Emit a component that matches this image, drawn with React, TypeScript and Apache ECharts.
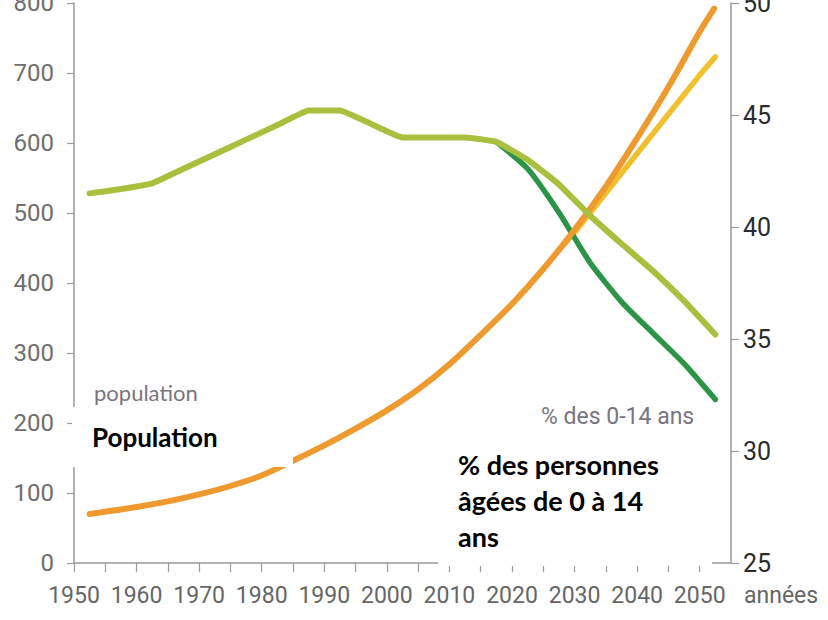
import React, { useEffect, useRef } from "react";
import * as echarts from "echarts";

// Population (millions), left axis
const popYears = [1952.5, 1960, 1965, 1970, 1975, 1980, 1985, 1990, 1995, 2000, 2005, 2010, 2015, 2020, 2025, 2030, 2035, 2040, 2045, 2050, 2052.3];
const popValues = [70, 80, 88, 98, 110, 125, 146, 168, 192, 218, 248, 284, 326, 370, 420, 476, 538, 607, 680, 759, 792];
// Low population projection
const popLowYears = [2027.5, 2030, 2040, 2050, 2052.5];
const popLowValues = [447, 472, 585, 697, 723];
// % of 0-14 year olds, right axis
const youngYears = [1952.5, 1957.5, 1962.5, 1967.5, 1972.5, 1977.5, 1982.5, 1987.5, 1992.5, 1997.5, 2002.5, 2007.5, 2012.5, 2017.5, 2022.5, 2027.5, 2032.5, 2037.5, 2042.5, 2047.5, 2052.5];
const youngValues = [41.5, 41.7, 41.95, 42.6, 43.25, 43.9, 44.55, 45.2, 45.2, 44.6, 44.0, 44.0, 44.0, 43.8, 43.0, 41.9, 40.5, 39.25, 38.05, 36.7, 35.2];
// Alternative (dark green) projection of % 0-14
const youngAltYears = [2017.5, 2022.5, 2027.5, 2032.5, 2037.5, 2042.5, 2047.5, 2052.5];
const youngAltValues = [43.8, 42.6, 40.65, 38.4, 36.66, 35.27, 33.9, 32.3];

const leftTicks = { min: 0, max: 800, interval: 100 };
const rightTicks = { min: 25, max: 50, interval: 5 };
const xTicks = { min: 1950, max: 2055, interval: 5 };

const NUM = "Roboto, 'Liberation Sans', sans-serif";
const BOLD = "Lato, 'Open Sans', sans-serif";

const pairs = (xs: number[], ys: number[]) => xs.map((x, i) => [x, ys[i]]);

export default function App() {
  const ref = useRef<HTMLDivElement>(null);
  useEffect(() => {
    if (!ref.current) return;
    const chart = echarts.init(ref.current, null, { renderer: "svg" });
    const axisLine = { show: true, lineStyle: { color: "#9a9a9a", width: 1.5 } };
    chart.setOption({
      animation: false,
      backgroundColor: "#ffffff",
      grid: { left: 74, right: 97, top: 3, bottom: 57, containLabel: false, outerBoundsMode: "none" },
      xAxis: {
        type: "value",
        min: xTicks.min,
        max: xTicks.max,
        interval: xTicks.interval,
        axisLine,
        axisTick: { show: true, length: 9, lineStyle: { color: "#9a9a9a", width: 1.2 } },
        splitLine: { show: false },
        axisLabel: {
          margin: 21,
          fontSize: 23,
          fontFamily: NUM,
          color: "#666666",
          showMaxLabel: false,
          formatter: (v: number) => (v % 10 === 0 && v <= 2050 ? String(v) : ""),
        },
      },
      yAxis: [
        {
          type: "value",
          position: "left",
          min: leftTicks.min,
          max: leftTicks.max,
          interval: leftTicks.interval,
          axisLine,
          axisTick: { show: true, length: 7, lineStyle: { color: "#9a9a9a", width: 1.2 } },
          splitLine: { show: false },
          axisLabel: { margin: 20, fontSize: 24, fontFamily: NUM, color: "#6e6e6e" },
        },
        {
          type: "value",
          position: "right",
          min: rightTicks.min,
          max: rightTicks.max,
          interval: rightTicks.interval,
          axisLine,
          axisTick: { show: true, length: 8, lineStyle: { color: "#9a9a9a", width: 1.2 } },
          splitLine: { show: false },
          axisLabel: { margin: 12, fontSize: 25, fontFamily: NUM, color: "#2b2b2b" },
        },
      ],
      series: [
        {
          type: "line",
          yAxisIndex: 1,
          data: pairs(youngAltYears, youngAltValues),
          showSymbol: false,
          smooth: 0.2,
          lineStyle: { color: "#2c9446", width: 5.5, cap: "round" },
          z: 3,
        },
        {
          type: "line",
          yAxisIndex: 1,
          data: pairs(youngYears, youngValues),
          showSymbol: false,
          smooth: 0.1,
          lineStyle: { color: "#a8c03e", width: 6, cap: "round" },
          z: 4,
        },
        {
          type: "line",
          yAxisIndex: 0,
          data: pairs(popLowYears, popLowValues),
          showSymbol: false,
          smooth: 0.2,
          lineStyle: { color: "#f2c02c", width: 5.5, cap: "round" },
          z: 2,
        },
        {
          type: "line",
          yAxisIndex: 0,
          data: pairs(popYears, popValues),
          showSymbol: false,
          smooth: 0.3,
          lineStyle: { color: "#ee9a2e", width: 6, cap: "round" },
          z: 3,
        },
      ],
      graphic: [
        {
          type: "text",
          left: 94,
          top: 381,
          z: 50,
          style: { text: "population", fontSize: 22, fontFamily: "Lato, sans-serif", fill: "#7a7480" },
        },
        {
          type: "text",
          left: 541,
          top: 405,
          z: 50,
          style: { text: "% des 0-14 ans", fontSize: 23, fontFamily: NUM, fill: "#7a7480" },
        },
        {
          type: "rect",
          z: 100,
          shape: { x: 72, y: 407, width: 221, height: 60 },
          style: { fill: "#ffffff" },
        },
        {
          type: "text",
          left: 92,
          top: 424,
          z: 101,
          style: { text: "Population", fontSize: 26, fontWeight: "bold", fontFamily: BOLD, fill: "#000000" },
        },
        {
          type: "rect",
          z: 100,
          shape: { x: 438, y: 426, width: 274, height: 140 },
          style: { fill: "#ffffff" },
        },
        {
          type: "text",
          left: 458,
          top: 446,
          z: 101,
          style: {
            text: "% des personnes\nâgées de 0 à 14\nans",
            fontSize: 27,
            lineHeight: 36,
            fontWeight: "bold",
            fontFamily: BOLD,
            fill: "#000000",
          },
        },
        {
          type: "text",
          left: 744,
          top: 584,
          z: 50,
          style: { text: "années", fontSize: 23, fontFamily: NUM, fill: "#666666" },
        },
      ],
    });
    return () => chart.dispose();
  }, []);
  return (
    <div
      ref={ref}
      style={{ position: "absolute", left: 0, top: 0, width: 828, height: 620, background: "#fff" }}
    />
  );
}
